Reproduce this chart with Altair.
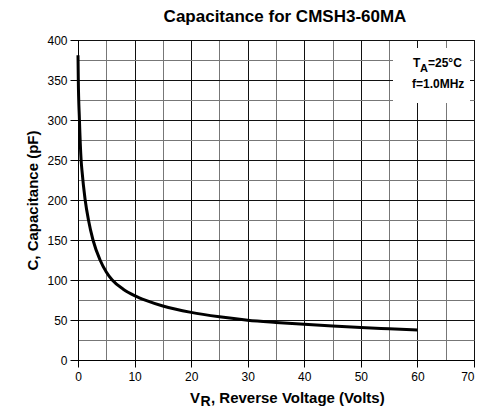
import altair as alt
import pandas as pd

# Data
voltage = [0, 0.05, 0.25, 0.55, 0.7, 1.25, 1.85, 2.65, 3.9, 5, 6.05, 8, 10,
           12, 15, 20, 25, 30, 35, 40, 45, 50, 55, 60]
capacitance = [381, 352, 301, 250, 237, 201, 175, 150, 125, 110, 100, 88.5, 80.5,
               74.5, 67.5, 59.5, 54, 49.8, 47, 44.6, 42.5, 40.6, 39, 37.5]
x_ticks = list(range(0, 75, 5))
y_ticks = list(range(0, 425, 25))

FONT = "Liberation Sans"
W, H = 396, 320

df = pd.DataFrame({"V": voltage, "C": capacitance})

x_enc = alt.X(
    "V:Q",
    scale=alt.Scale(domain=[0, 70], nice=False),
    axis=alt.Axis(
        values=x_ticks,
        title=None,
        labelExpr="datum.value % 10 === 0 ? datum.label : ''",
        labelAlign=alt.condition("datum.value === 70", alt.value("right"), alt.value("center")),
        grid=True,
        gridColor=alt.condition("datum.value % 10 === 0", alt.value("#111"), alt.value("#777")),
        gridOpacity=1,
        tickColor=alt.condition("datum.value % 10 === 0", alt.value("#000"), alt.value("transparent")),
        tickSize=7,
        labelPadding=4,
        labelFontSize=12,
        labelFont=FONT,
        labelColor="black",
        labelFlush=False,
        domainColor="black",
    ),
)
y_enc = alt.Y(
    "C:Q",
    scale=alt.Scale(domain=[0, 400], nice=False),
    axis=alt.Axis(
        values=y_ticks,
        title="C, Capacitance (pF)",
        titleFont=FONT,
        titleFontSize=15,
        titleFontWeight="bold",
        titleColor="black",
        titlePadding=6,
        labelExpr="datum.value % 50 === 0 ? datum.label : ''",
        grid=True,
        gridColor=alt.condition("datum.value % 50 === 0", alt.value("#111"), alt.value("#777")),
        gridOpacity=1,
        tickColor=alt.condition("datum.value % 50 === 0", alt.value("#000"), alt.value("transparent")),
        tickSize=8,
        labelPadding=3,
        labelFontSize=12,
        labelFont=FONT,
        labelColor="black",
        labelFlush=False,
        domainColor="black",
    ),
)

line = alt.Chart(df).mark_line(
    color="black", strokeWidth=3, interpolate="monotone"
).encode(x=x_enc, y=y_enc)

one = alt.Data(values=[{"k": 1}])

box = alt.Chart(one).mark_rect(fill="white").encode(
    x=alt.value(315), x2=alt.value(392), y=alt.value(8), y2=alt.value(63)
)

def txt(s, x, y, size, anchor="left"):
    return alt.Chart(one).mark_text(
        text=s, align=anchor, baseline="alphabetic", fontSize=size,
        fontWeight="bold", font=FONT, color="black"
    ).encode(x=alt.value(x), y=alt.value(y))

anno = [
    txt("T", 335, 27, 12),
    txt("A", 342, 32, 11),
    txt("=25°C", 350, 27, 12),
    txt("f=1.0MHz", 334, 48, 12),
    txt("V", 112, 363, 15),
    txt("R", 122.5, 366, 14),
    txt(", Reverse Voltage (Volts)", 133, 363, 15),
]

chart = alt.layer(box, line, *anno).properties(
    width=W,
    height=H,
    autosize=alt.AutoSizeParams(type="none"),
    padding={"left": 70, "top": 32, "right": 1, "bottom": 49},
    title=alt.TitleParams(
        "Capacitance for CMSH3-60MA",
        font=FONT, fontSize=17, fontWeight="bold", color="black",
        anchor="middle", dx=9, offset=8,
    ),
).configure_view(stroke="black", strokeWidth=1)

chart.save("out.html", embed_options={"renderer": "svg", "actions": False})
